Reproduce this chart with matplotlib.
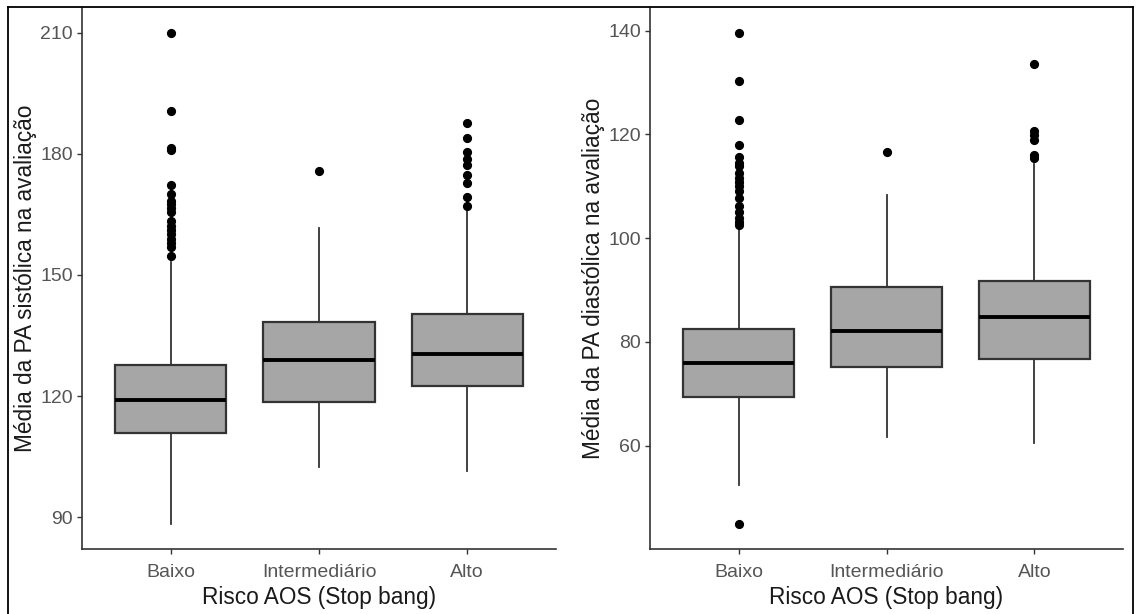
import matplotlib
matplotlib.use("Agg")
import matplotlib.pyplot as plt

plt.rcParams['font.family'] = ['Liberation Sans', 'DejaVu Sans']

categories = ['Baixo', 'Intermediário', 'Alto']

# Systolic (left panel)
sys_whislo = [88.2, 102.3, 101.5]
sys_q1 = [110.8, 118.5, 122.5]
sys_med = [119.0, 129.0, 130.4]
sys_q3 = [127.6, 138.3, 140.2]
sys_whishi = [153.2, 161.6, 166.0]
sys_fliers_baixo = [210.0, 190.6, 180.8, 181.3, 172.3, 170.1, 168.4, 167.5, 166.5,
                    165.5, 163.4, 162.2, 161.0, 160.0, 159.0, 157.8, 156.8, 154.6]
sys_fliers_inter = [175.7]
sys_fliers_alto = [187.7, 183.8, 180.4, 178.8, 177.1, 174.8, 172.8, 169.3, 167.0]

# Diastolic (right panel)
dia_whislo = [52.4, 61.7, 60.4]
dia_q1 = [69.4, 75.1, 76.6]
dia_med = [76.0, 82.1, 84.7]
dia_q3 = [82.4, 90.5, 91.8]
dia_whishi = [101.9, 108.2, 114.3]
dia_fliers_baixo = [139.6, 130.2, 122.7, 118.0, 115.6, 114.5, 113.8, 112.5, 111.5,
                    110.8, 110.0, 109.1, 107.7, 106.2, 105.1, 103.9, 103.0, 102.5, 44.8]
dia_fliers_inter = [116.5]
dia_fliers_alto = [133.6, 120.7, 119.8, 118.9, 116.0, 115.5]

xlabel = 'Risco AOS (Stop bang)'
ylabel_sys = 'Média da PA sistólica na avaliação'
ylabel_dia = 'Média da PA diastólica na avaliação'
sys_ticks = [90, 120, 150, 180, 210]
dia_ticks = [60, 80, 100, 120, 140]

W, H = 1137, 614
fig = plt.figure(figsize=(W / 100, H / 100), dpi=100)

# outer frame (left, top, right)
fig.add_artist(plt.Line2D([8 / W, 8 / W], [0, 1 - 7 / H], transform=fig.transFigure, color='black', lw=1.3))
fig.add_artist(plt.Line2D([8 / W, 1133 / W], [1 - 7 / H, 1 - 7 / H], transform=fig.transFigure, color='black', lw=1.3))
fig.add_artist(plt.Line2D([1133 / W, 1133 / W], [0, 1 - 7 / H], transform=fig.transFigure, color='black', lw=1.3))

ax1 = fig.add_axes([82 / W, 65 / H, (556 - 82) / W, (549 - 8) / H])
ax2 = fig.add_axes([650 / W, 65 / H, (1123 - 650) / W, (549 - 8) / H])


def make_stats(whislo, q1, med, q3, whishi, fliers):
    out = []
    for i in range(len(categories)):
        out.append(dict(whislo=whislo[i], q1=q1[i], med=med[i], q3=q3[i],
                        whishi=whishi[i], fliers=fliers[i], label=categories[i]))
    return out


def draw(ax, stats, ticks, ylabel):
    ax.bxp(stats, positions=[1, 2, 3], widths=0.75, patch_artist=True,
           showcaps=False,
           boxprops=dict(facecolor='#A6A6A6', edgecolor='#333333', linewidth=1.6),
           medianprops=dict(color='black', linewidth=2.8, solid_capstyle='butt'),
           whiskerprops=dict(color='#333333', linewidth=1.3),
           flierprops=dict(marker='o', markerfacecolor='black', markeredgecolor='black',
                           markersize=5.6, linestyle='none'))
    allv = []
    for s in stats:
        allv += [s['whislo'], s['whishi']] + list(s['fliers'])
    lo, hi = min(allv), max(allv)
    pad = 0.05 * (hi - lo)
    ax.set_ylim(lo - pad, hi + pad)
    ax.set_xlim(0.4, 3.6)
    ax.set_yticks(ticks)
    ax.set_xticks([1, 2, 3])
    ax.set_xticklabels(categories)
    for sp in ['top', 'right']:
        ax.spines[sp].set_visible(False)
    for sp in ['left', 'bottom']:
        ax.spines[sp].set_color('#333333')
        ax.spines[sp].set_linewidth(1.2)
    ax.tick_params(axis='both', colors='#333333', length=3.6, width=1.0,
                   labelsize=14, labelcolor='#555555')
    ax.tick_params(axis='y', pad=3)
    ax.tick_params(axis='x', pad=7)
    ax.set_xlabel(xlabel, fontsize=16.3, color='#1a1a1a', labelpad=3.5)
    ax.set_ylabel(ylabel, fontsize=16.3, color='#1a1a1a', labelpad=2.5)


draw(ax1, make_stats(sys_whislo, sys_q1, sys_med, sys_q3, sys_whishi,
                     [sys_fliers_baixo, sys_fliers_inter, sys_fliers_alto]),
     sys_ticks, ylabel_sys)
draw(ax2, make_stats(dia_whislo, dia_q1, dia_med, dia_q3, dia_whishi,
                     [dia_fliers_baixo, dia_fliers_inter, dia_fliers_alto]),
     dia_ticks, ylabel_dia)

fig.savefig('out.png', dpi=100)
